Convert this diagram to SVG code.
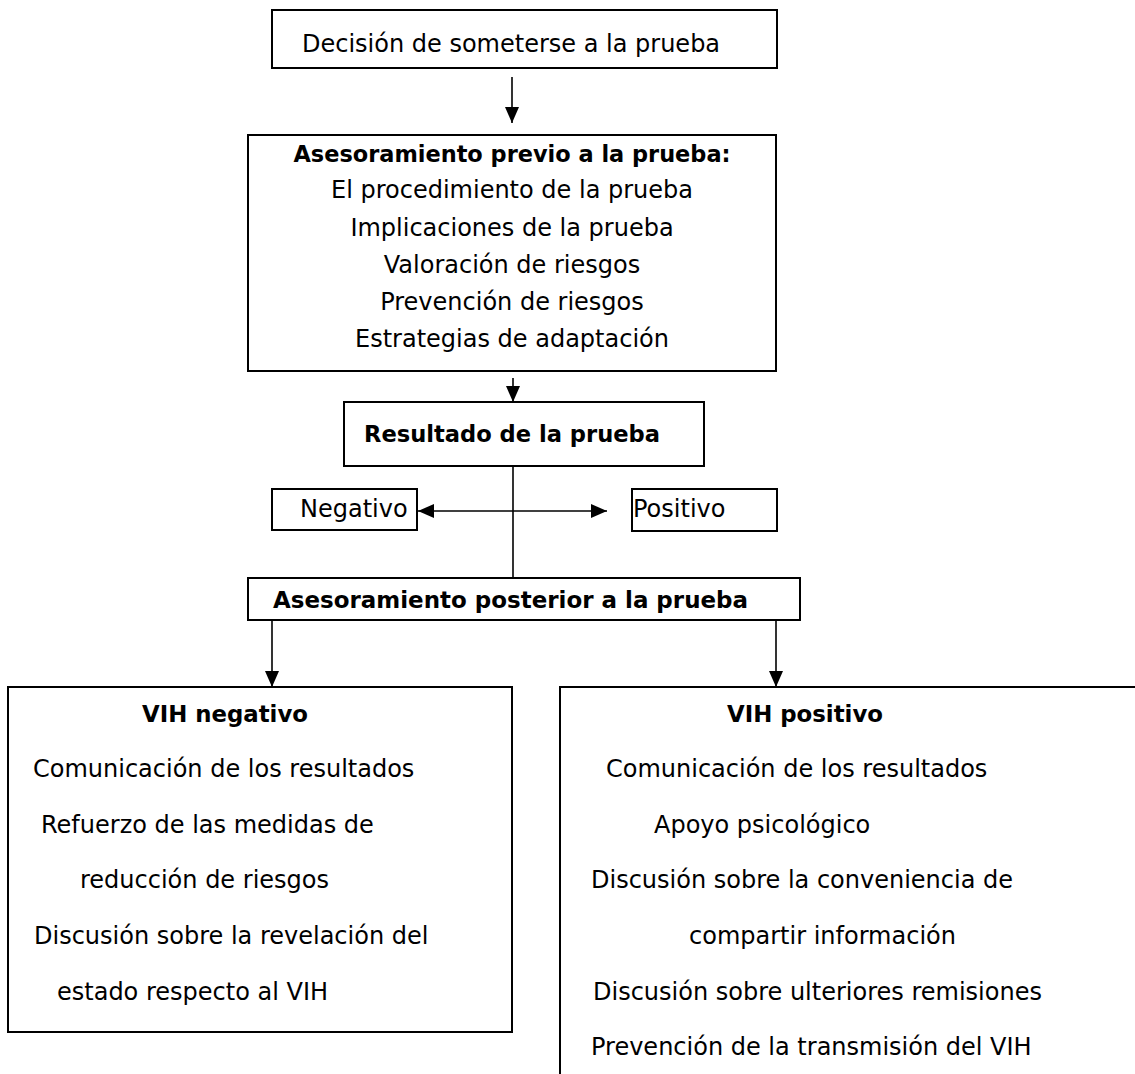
<svg xmlns="http://www.w3.org/2000/svg" width="1135" height="1074" viewBox="0 0 1135 1074">
<defs>
<marker id="ah" markerWidth="16" markerHeight="14" refX="16" refY="7" orient="auto-start-reverse" markerUnits="userSpaceOnUse">
<path d="M0,0 L16,7 L0,14 Z" fill="#000"/>
</marker>
<style>
.box{fill:#fff;stroke:#000;stroke-width:2}
.t{font-family:"DejaVu Sans","Liberation Sans",sans-serif;font-size:24px;fill:#000}
.b{font-family:"DejaVu Sans","Liberation Sans",sans-serif;font-size:23px;font-weight:bold;fill:#000}
.c{text-anchor:middle}
.ln{stroke:#000;stroke-width:1.6;fill:none}
.ar{stroke:#000;stroke-width:1.6;fill:none;marker-end:url(#ah)}
.ar2{stroke:#000;stroke-width:1.6;fill:none;marker-end:url(#ah);marker-start:url(#ah)}
</style>
</defs>
<rect width="1135" height="1074" fill="#fff"/>

<g id="connectors">
<line class="ar" x1="512" y1="77" x2="512" y2="123"/>
<line class="ar" x1="513" y1="378" x2="513" y2="402"/>
<line class="ln" x1="513" y1="466" x2="513" y2="578"/>
<line class="ar2" x1="418" y1="511" x2="607" y2="511"/>
<line class="ar" x1="272" y1="620" x2="272" y2="687"/>
<line class="ar" x1="776" y1="620" x2="776" y2="687"/>
</g>

<g id="decision">
<rect class="box" x="272" y="10" width="505" height="58"/>
<text class="t" x="302" y="52">Decisión de someterse a la prueba</text>
</g>

<g id="asesoramiento-previo">
<rect class="box" x="248" y="135" width="528" height="236"/>
<text class="b c" x="512" y="162" textLength="437" lengthAdjust="spacingAndGlyphs">Asesoramiento previo a la prueba:</text>
<text class="t c" x="512" y="198">El procedimiento de la prueba</text>
<text class="t c" x="512" y="236">Implicaciones de la prueba</text>
<text class="t c" x="512" y="273">Valoración de riesgos</text>
<text class="t c" x="512" y="310">Prevención de riesgos</text>
<text class="t c" x="512" y="347">Estrategias de adaptación</text>
</g>

<g id="resultado">
<rect class="box" x="344" y="402" width="360" height="64"/>
<text class="b" x="364" y="442" textLength="296" lengthAdjust="spacingAndGlyphs">Resultado de la prueba</text>
</g>

<g id="negativo">
<rect class="box" x="272" y="489" width="145" height="41"/>
<text class="t" x="300" y="517">Negativo</text>
</g>

<g id="positivo">
<rect class="box" x="632" y="489" width="145" height="42"/>
<text class="t" x="633" y="517">Positivo</text>
</g>

<g id="asesoramiento-posterior">
<rect class="box" x="248" y="578" width="552" height="42"/>
<text class="b" x="273" y="608" textLength="475" lengthAdjust="spacingAndGlyphs">Asesoramiento posterior a la prueba</text>
</g>

<g id="vih-negativo">
<rect class="box" x="8" y="687" width="504" height="345"/>
<text class="b" x="142" y="722" textLength="166" lengthAdjust="spacingAndGlyphs">VIH negativo</text>
<text class="t" x="33" y="777">Comunicación de los resultados</text>
<text class="t" x="41" y="833">Refuerzo de las medidas de</text>
<text class="t" x="80" y="888">reducción de riesgos</text>
<text class="t" x="34" y="944">Discusión sobre la revelación del</text>
<text class="t" x="57" y="1000">estado respecto al VIH</text>
</g>

<g id="vih-positivo">
<rect class="box" x="560" y="687" width="600" height="420"/>
<text class="b" x="727" y="722" textLength="156" lengthAdjust="spacingAndGlyphs">VIH positivo</text>
<text class="t" x="606" y="777">Comunicación de los resultados</text>
<text class="t" x="654" y="833">Apoyo psicológico</text>
<text class="t" x="591" y="888">Discusión sobre la conveniencia de</text>
<text class="t" x="689" y="944">compartir información</text>
<text class="t" x="593" y="1000">Discusión sobre ulteriores remisiones</text>
<text class="t" x="591" y="1055">Prevención de la transmisión del VIH</text>
</g>
</svg>
